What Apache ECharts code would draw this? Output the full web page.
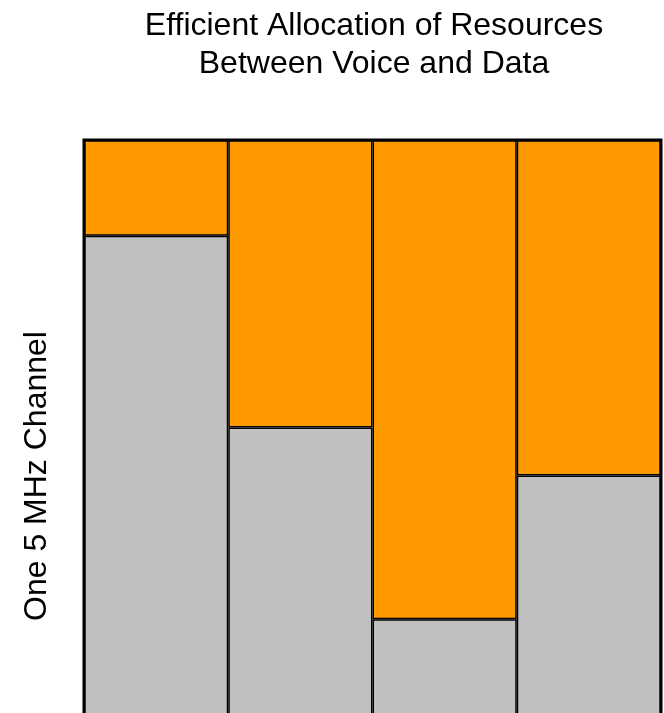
<!DOCTYPE html>
<html>
<head>
<meta charset="utf-8">
<title>Efficient Allocation of Resources</title>
<script src="https://cdn.jsdelivr.net/npm/echarts@6/dist/echarts.min.js"></script>
<style>
  html, body { margin: 0; padding: 0; background: #fff; }
  #main { width: 664px; height: 713px; }
</style>
</head>
<body>
<div id="main"></div>
<script>
// time slots across the channel
const slots = ["1", "2", "3", "4"];
// share of the 5 MHz channel (out of 6 units)
const voice = [5, 3, 1, 2.5];
const data = [1, 3, 5, 3.5];
const channelTotal = 6;

const chart = echarts.init(document.getElementById("main"), null, { renderer: "canvas" });

const option = {
  animation: false,
  title: {
    text: "Efficient Allocation of Resources\nBetween Voice and Data",
    left: 369,
    top: 2,
    textAlign: "center",
    textStyle: {
      fontFamily: "Liberation Sans, Arial, sans-serif",
      fontSize: 32,
      lineHeight: 38,
      fontWeight: "normal",
      color: "#000",
    },
  },
  grid: {
    left: 84,
    right: 3,
    top: 140,
    bottom: -2,
    outerBoundsMode: "none",
    show: true,
    borderColor: "#000",
    borderWidth: 3,
    backgroundColor: "transparent",
    z: 10,
  },
  xAxis: {
    type: "category",
    data: slots,
    show: false,
  },
  yAxis: {
    type: "value",
    min: 0,
    max: channelTotal,
    show: false,
  },
  graphic: [
    {
      type: "text",
      x: 37,
      y: 476,
      rotation: Math.PI / 2,
      style: {
        text: "One 5 MHz Channel",
        font: "32px Liberation Sans, Arial, sans-serif",
        fill: "#000",
        textAlign: "center",
        textVerticalAlign: "middle",
      },
    },
  ],
  series: [
    {
      name: "Voice",
      type: "bar",
      stack: "ch",
      data: voice,
      barCategoryGap: 0,
      itemStyle: { color: "#C0C0C0", borderColor: "#000", borderWidth: 1.5 },
    },
    {
      name: "Data",
      type: "bar",
      stack: "ch",
      data: data,
      barCategoryGap: 0,
      itemStyle: { color: "#FF9900", borderColor: "#000", borderWidth: 1.5 },
    },
  ],
};

chart.setOption(option);
</script>
</body>
</html>
